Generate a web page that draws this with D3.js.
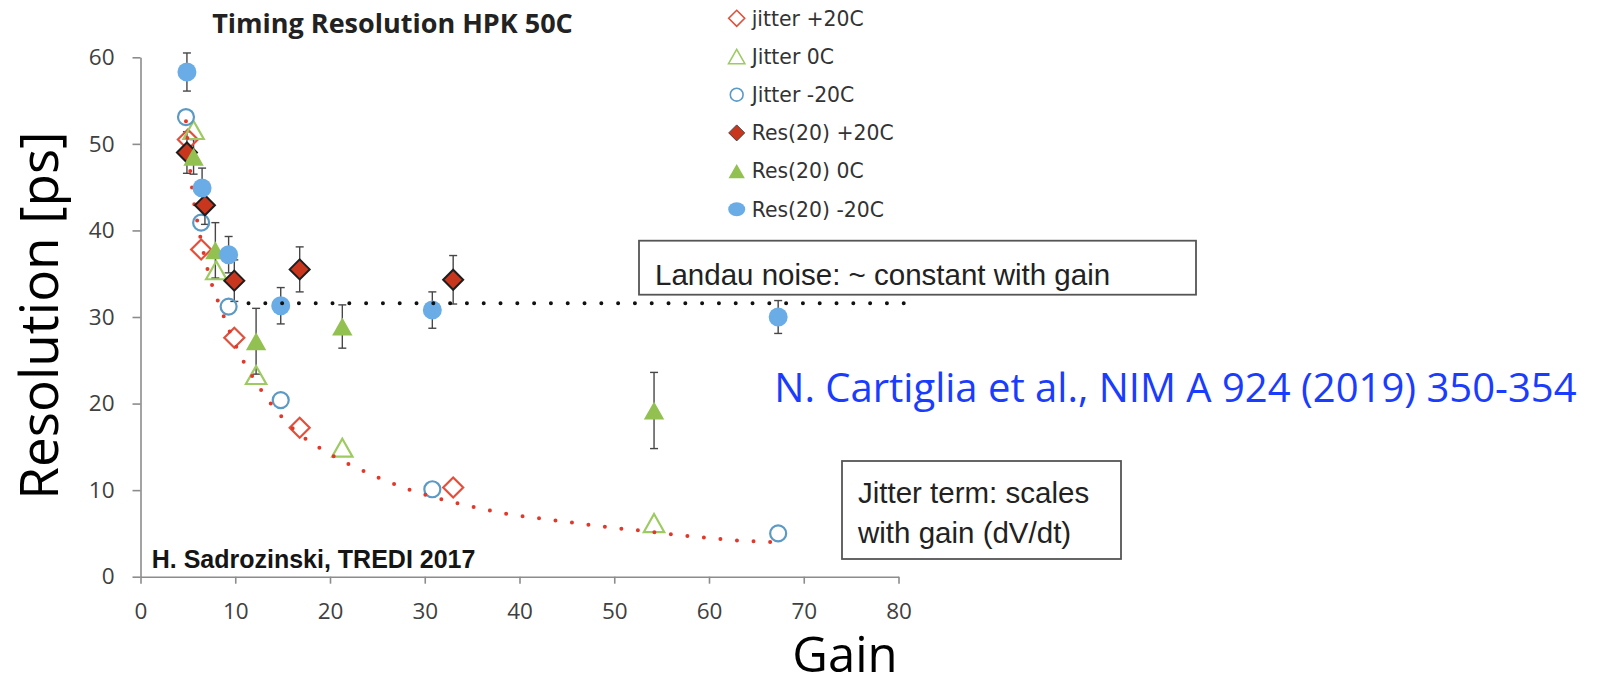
<!DOCTYPE html>
<html>
<head>
<meta charset="utf-8">
<script src="https://cdn.jsdelivr.net/npm/d3@7"></script>
<style>
    body { margin: 0; background: #fff; }
    svg { display: block; }
    .axis path, .axis line { stroke: #8c8c8c; stroke-width: 1.6px; }
    .axis text { font-family: "Open Sans", sans-serif; font-size: 22.5px; fill: #404040; }
</style>
</head>
<body>
<div id="vis"></div>
<script>
const W = 1598, H = 680;

// values: gain (x) and resolution in ps (y)
const jitP20Gain = [5.0, 6.4, 9.9, 16.8, 33.0];
const jitP20Res  = [50.5, 37.8, 27.6, 17.2, 10.3];

const jit0Gain = [5.6, 8.0, 12.2, 21.3, 54.2];
const jit0Res  = [51.6, 35.4, 23.3, 14.9, 6.2];

const jitM20Gain = [4.8, 6.4, 9.3, 14.8, 30.8, 67.3];
const jitM20Res  = [53.1, 40.9, 31.2, 20.4, 10.1, 5.0];

const resP20Gain = [4.9, 6.8, 9.9, 16.8, 33.0];
const resP20Res  = [49.0, 42.9, 34.2, 35.5, 34.3];
const resP20Err  = [2.4, 2.2, 2.4, 2.6, 2.8];

const res0Gain = [5.6, 7.9, 12.2, 21.3, 54.2];
const res0Res  = [48.5, 37.7, 27.2, 28.9, 19.2];
const res0Err  = [2.0, 3.2, 3.8, 2.5, 4.4];

const resM20Gain = [4.9, 6.5, 9.3, 14.8, 30.8, 67.3];
const resM20Res  = [58.3, 44.9, 37.2, 31.3, 30.8, 30.0];
const resM20Err  = [2.2, 2.3, 2.1, 2.1, 2.1, 1.9];

// red dotted jitter fit
const fitGain = [4.8, 5.4, 6.2, 7.3, 8.4, 10.3, 12.0, 13.9, 16.1, 19.0, 22.0, 25.2,
                 28.5, 31.9, 35.4, 38.9, 42.4, 46.0, 49.5, 53.0, 56.5, 60.1, 63.6, 67.1];
const fitRes  = [52.6, 45.3, 39.9, 34.6, 31.2, 26.1, 22.8, 19.8, 17.1, 14.8, 13.0, 11.4,
                 10.0, 8.9, 8.0, 7.2, 6.7, 6.2, 5.7, 5.3, 4.85, 4.45, 4.15, 4.0];

// black dotted landau level
const landauRes = 31.6;
const landauGain = [11.4, 81];

const xTicks = [0, 10, 20, 30, 40, 50, 60, 70, 80];
const yTicks = [0, 10, 20, 30, 40, 50, 60];

const legendLabels = ["jitter +20C", "Jitter 0C", "Jitter -20C", "Res(20) +20C", "Res(20) 0C", "Res(20) -20C"];

const zip = (g, r, e) => g.map((v, i) => ({ g: v, r: r[i], e: e ? e[i] : 0 }));

const series = [
    { type: "diamond", fill: "none", stroke: "#e0503c", sw: 2.2, pts: zip(jitP20Gain, jitP20Res) },
    { type: "triangle", fill: "none", stroke: "#9dcb62", sw: 2.2, pts: zip(jit0Gain, jit0Res) },
    { type: "circle", fill: "none", stroke: "#5b9ac4", sw: 2.2, pts: zip(jitM20Gain, jitM20Res) },
    { type: "diamond", fill: "#c8361e", stroke: "#1e1e1e", sw: 2, pts: zip(resP20Gain, resP20Res, resP20Err) },
    { type: "triangle", fill: "#92c152", stroke: "none", sw: 0, pts: zip(res0Gain, res0Res, res0Err) },
    { type: "circle", fill: "#6aade6", stroke: "none", sw: 0, pts: zip(resM20Gain, resM20Res, resM20Err) }
];

function shape(type, s, filled) {
    if (type === "diamond") return `M0,${-s}L${s},0L0,${s}L${-s},0Z`;
    if (type === "triangle") {
        const w = s * 1.02, h = s * 0.9;
        return `M0,${-h}L${w},${h}L${-w},${h}Z`;
    }
    const p = d3.path();
    p.arc(0, 0, s * (filled ? 0.95 : 0.8), 0, 2 * Math.PI);
    p.closePath();
    return p.toString();
}

const svg = d3.select("#vis").append("svg")
    .attr("width", W).attr("height", H);

svg.append("rect").attr("width", W).attr("height", H).attr("fill", "#fff");

const x = d3.scaleLinear().domain([0, 80]).range([140.5, 898.5]);
const y = d3.scaleLinear().domain([0, 60]).range([576.7, 57.3]);

svg.append("g")
    .attr("class", "axis")
    .attr("transform", `translate(0,${y(0)})`)
    .call(d3.axisBottom(x).tickValues(xTicks).tickSize(7).tickSizeOuter(0).tickPadding(19));

svg.append("g")
    .attr("class", "axis")
    .attr("transform", `translate(${x(0)},0)`)
    .call(d3.axisLeft(y).tickValues(yTicks).tickSize(8).tickSizeOuter(0).tickPadding(18));

// error bars
const errG = svg.append("g").attr("stroke", "#474747").attr("stroke-width", 1.4);
series.filter(s => s.pts[0].e).forEach(s => {
    s.pts.forEach(d => {
        const x0 = x(d.g), y1 = y(d.r - d.e), y2 = y(d.r + d.e);
        errG.append("line").attr("x1", x0).attr("x2", x0).attr("y1", y1).attr("y2", y2);
        errG.append("line").attr("x1", x0 - 4).attr("x2", x0 + 4).attr("y1", y1).attr("y2", y1);
        errG.append("line").attr("x1", x0 - 4).attr("x2", x0 + 4).attr("y1", y2).attr("y2", y2);
    });
});

function drawSeries(s) {
    svg.append("g").selectAll("path")
        .data(s.pts)
        .join("path")
        .attr("transform", d => `translate(${x(d.g)},${y(d.r)})`)
        .attr("d", shape(s.type, 10, s.fill !== "none"))
        .attr("fill", s.fill)
        .attr("stroke", s.stroke)
        .attr("stroke-width", s.sw);
}

series.slice(0, 3).forEach(drawSeries);

// jitter fit
const fitLine = d3.line().x(d => x(d[0])).y(d => y(d[1])).curve(d3.curveMonotoneX);
svg.append("path")
    .attr("d", fitLine(fitGain.map((g, i) => [g, fitRes[i]])))
    .attr("fill", "none")
    .attr("stroke", "#e2382a")
    .attr("stroke-width", 4)
    .attr("stroke-linecap", "round")
    .attr("stroke-dasharray", "0 16.6");

series.slice(3).forEach(drawSeries);

// landau level
svg.append("line")
    .attr("x1", x(landauGain[0])).attr("x2", x(landauGain[1]))
    .attr("y1", y(landauRes)).attr("y2", y(landauRes))
    .attr("stroke", "#111")
    .attr("stroke-width", 4)
    .attr("stroke-linecap", "round")
    .attr("stroke-dasharray", "0 16.8");

// annotation boxes
svg.append("rect")
    .attr("x", 639).attr("y", 240.7).attr("width", 557).attr("height", 54)
    .attr("fill", "#fff").attr("stroke", "#555").attr("stroke-width", 1.8);
svg.append("text")
    .attr("x", 655).attr("y", 285)
    .style("font-family", "'Liberation Sans', Arial, sans-serif")
    .style("font-size", "29.5px").style("fill", "#222")
    .text("Landau noise: ~ constant with gain");

svg.append("rect")
    .attr("x", 842).attr("y", 461).attr("width", 279).attr("height", 98)
    .attr("fill", "#fff").attr("stroke", "#555").attr("stroke-width", 1.8);
const jt = svg.append("text")
    .style("font-family", "'Liberation Sans', Arial, sans-serif")
    .style("font-size", "29.5px").style("fill", "#222");
jt.append("tspan").attr("x", 858).attr("y", 503.3).text("Jitter term: scales");
jt.append("tspan").attr("x", 858).attr("y", 543.3).text("with gain (dV/dt)");

// legend
const legend = svg.append("g");
const legendY = d3.scaleLinear().domain([0, 5]).range([18.3, 209.3]);
series.forEach((s, i) => {
    const row = legend.append("g").attr("transform", `translate(736.7,${legendY(i)})`);
    row.append("path")
        .attr("d", s.type === "circle" && s.fill !== "none"
            ? `M-8.5,0a8.5,7 0 1,0 17,0a8.5,7 0 1,0 -17,0Z`
            : shape(s.type, 8, false))
        .attr("fill", s.fill)
        .attr("stroke", s.fill !== "none" && s.type === "diamond" ? "#444" : s.stroke)
        .attr("stroke-width", s.fill === "none" ? 1.6 : (s.sw ? 1 : 0));
    row.append("text")
        .attr("x", 15).attr("dy", "0.36em")
        .style("font-family", "'DejaVu Sans', sans-serif")
        .style("font-size", "20.4px").style("fill", "#333")
        .text(legendLabels[i]);
});

// titles and credits
svg.append("text")
    .attr("x", 392.5).attr("y", 33).attr("text-anchor", "middle")
    .style("font-family", "'Open Sans', sans-serif").style("font-weight", "bold")
    .style("font-size", "27px").style("fill", "#222")
    .text("Timing Resolution HPK 50C");

svg.append("text")
    .attr("x", 151.7).attr("y", 568.3)
    .style("font-family", "'Liberation Sans', Arial, sans-serif").style("font-weight", "bold")
    .style("font-size", "25px").style("fill", "#151515")
    .text("H. Sadrozinski, TREDI 2017");

svg.append("text")
    .attr("x", 774.3).attr("y", 401.7)
    .style("font-family", "'Open Sans', sans-serif")
    .style("font-size", "40px").style("fill", "#1a3cff")
    .text("N. Cartiglia et al., NIM A 924 (2019) 350-354");

svg.append("text")
    .attr("transform", "translate(58,315.5) rotate(-90)")
    .attr("text-anchor", "middle")
    .style("font-family", "'Open Sans', sans-serif")
    .style("font-size", "53px").style("fill", "#000")
    .text("Resolution [ps]");

svg.append("text")
    .attr("x", 845).attr("y", 672).attr("text-anchor", "middle")
    .style("font-family", "'Open Sans', sans-serif")
    .style("font-size", "49px").style("fill", "#000")
    .text("Gain");
</script>
</body>
</html>
